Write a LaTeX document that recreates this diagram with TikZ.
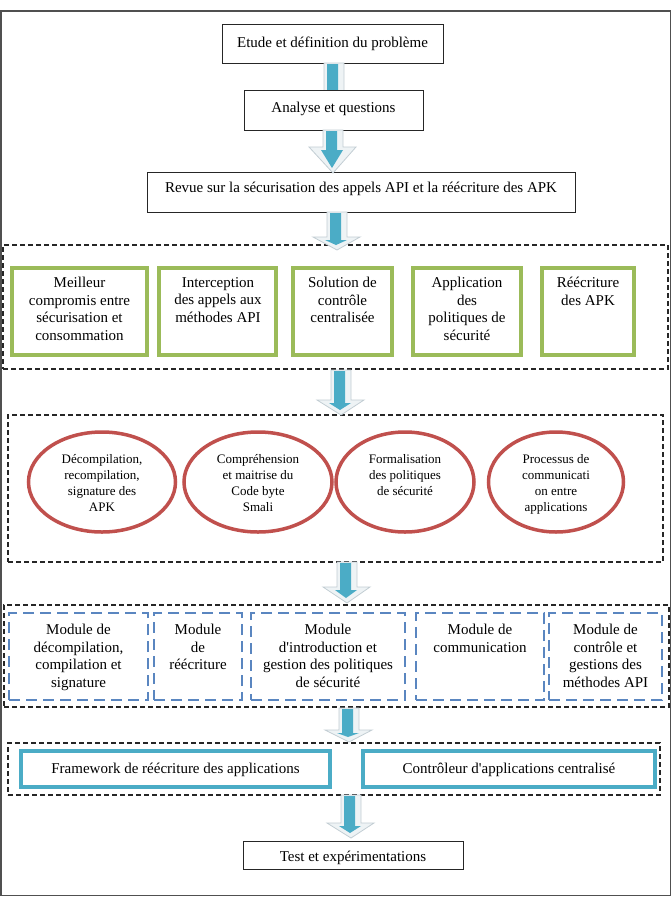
\documentclass[tikz,border=0pt]{standalone}
\usepackage{fontspec}
\setmainfont{Liberation Serif}[Ligatures=TeXOff]
\usetikzlibrary{fit,shapes.geometric}
\definecolor{ablue}{HTML}{4BACC6}
\definecolor{agreen}{HTML}{9BBB59}
\definecolor{ared}{HTML}{C0504D}
\definecolor{mblue}{HTML}{5A86C0}
\definecolor{arrlight}{HTML}{EEF3F5}
\definecolor{arredge}{HTML}{C2CDD3}
\definecolor{framec}{HTML}{505050}
\newcommand\blkarrow[4]{%
  \path[fill=arrlight, draw=arredge, line width=0.8pt]
    (#1-9,#2) -- (#1+11,#2) -- (#1+11,#3) -- (#1+24,#3) -- (#1+1,#4)
    -- (#1-23,#3) -- (#1-9,#3) -- cycle;
  \path[fill=ablue]
    (#1-6,#2+1) -- (#1+5,#2+1) -- (#1+5,#3+3) -- (#1+11,#3+3) -- (#1,#4-5)
    -- (#1-11,#3+3) -- (#1-6,#3+3) -- cycle;
}
\begin{document}
\begin{tikzpicture}[x=1pt,y=-1pt,
  plainbox/.style={draw=black!85, line width=1pt, fill=white, inner sep=0pt},
  greenbox/.style={draw=agreen, line width=3.5pt, inner sep=0pt},
  redell/.style={ellipse, draw=ared, line width=3.5pt, inner sep=0pt},
  modbox/.style={draw=mblue, line width=2.5pt, dash pattern=on 11pt off 6pt, inner sep=0pt},
  bluebox/.style={draw=ablue, line width=4pt, inner sep=0pt},
  groupbox/.style={draw=black!85, line width=1.3pt, dash pattern=on 5pt off 3pt, inner sep=0pt},
  framebox/.style={draw=framec, line width=1.5pt, inner sep=0pt},
  txt/.style={align=center, font=\fontsize{15}{17.5}\selectfont, inner sep=0pt},
  mtxt/.style={txt, anchor=north, execute at begin node={\rule{0pt}{11pt}}},
  etxt/.style={align=center, font=\fontsize{13}{16}\selectfont, inner sep=0pt, anchor=north,
    execute at begin node={\rule{0pt}{10pt}}}
]
\useasboundingbox (0,0) rectangle (672,898);
\node[framebox, fit={(1,11) (670.5,895.5)}] (frame) {};

% top boxes
\node[plainbox, fit={(222,24) (443,63)}] (b1) {};
\node[txt, anchor=base] (t1) at (332.5,47) {Etude et définition du problème};
\blkarrow{333}{63}{100}{120}
\node[plainbox, fit={(244,90) (423,130)}] (b2) {};
\node[txt, anchor=base] (t2) at (333.5,112) {Analyse et questions};
\node[plainbox, fit={(147,172) (575,212)}] (b3) {};
\node[txt, anchor=base] (t3) at (361,192) {Revue sur la sécurisation des appels API et la réécriture des APK};

% group 1
\node[groupbox, fit={(3,245) (668,369)}] (g1) {};
\node[greenbox, fit={(12,268) (147,355)}] (ga) {};
\node[greenbox, fit={(159,268) (276,355)}] (gb) {};
\node[greenbox, fit={(293,268) (392,355)}] (gc) {};
\node[greenbox, fit={(413,268) (521,355)}] (gd) {};
\node[greenbox, fit={(542,268) (634,355)}] (ge) {};
\node[mtxt] (ta) at (79.5,277) {Meilleur\\compromis entre\\sécurisation et\\consommation};
\node[mtxt] (tb) at (218,277) {Interception\\des appels aux\\méthodes API};
\node[mtxt] (tc) at (342.5,277) {Solution de\\contrôle\\centralisée};
\node[mtxt] (td) at (467,277) {Application\\des\\politiques de\\sécurité};
\node[mtxt] (te) at (588,277) {Réécriture\\des APK};

% group 2
\node[groupbox, fit={(8,415) (663,562)}] (g2) {};
\node[redell, minimum width=147pt, minimum height=100pt] (ea) at (102,482) {};
\node[redell, minimum width=148pt, minimum height=100pt] (eb) at (258,482) {};
\node[redell, minimum width=138pt, minimum height=100pt] (ec) at (405,482) {};
\node[redell, minimum width=135pt, minimum height=100pt] (ed) at (556,482) {};
\node[etxt] (tea) at (102,454) {Décompilation,\\recompilation,\\signature des\\APK};
\node[etxt] (teb) at (258,454) {Compréhension\\et maitrise du\\Code byte\\Smali};
\node[etxt] (tec) at (405,454) {Formalisation\\des politiques\\de sécurité};
\node[etxt] (ted) at (556,454) {Processus de\\communicati\\on entre\\applications};

% group 3
\node[groupbox, fit={(4,605) (669,707)}] (g3) {};
\node[modbox, fit={(9,613) (148,700)}] (ma) {};
\node[modbox, fit={(154,613) (242,700)}] (mb) {};
\node[modbox, fit={(251,613) (405,700)}] (mc) {};
\node[modbox, fit={(416,613) (544,700)}] (md) {};
\node[modbox, fit={(549,613) (662,700)}] (me) {};
\node[mtxt] (tma) at (78.5,624) {Module de\\décompilation,\\compilation et\\signature};
\node[mtxt] (tmb) at (198,624) {Module\\de\\réécriture};
\node[mtxt] (tmc) at (328,624) {Module\\d'introduction et\\gestion des politiques\\de sécurité};
\node[mtxt] (tmd) at (480,624) {Module de\\communication};
\node[mtxt] (tme) at (605.5,624) {Module de\\contrôle et\\gestions des\\méthodes API};

% group 4
\node[groupbox, fit={(8,743) (660,795)}] (g4) {};
\node[bluebox, fit={(21,751) (330,787)}] (fa) {};
\node[bluebox, fit={(363,751) (655,787)}] (fb) {};
\node[txt, anchor=base] (tfa) at (175.5,773) {Framework de réécriture des applications};
\node[txt, anchor=base] (tfb) at (509,773) {Contrôleur d'applications centralisé};

% final
\node[plainbox, fit={(243,841) (463,869)}] (b4) {};
\node[txt, anchor=base] (t4) at (353,861) {Test et expérimentations};

% arrows
\blkarrow{332}{130}{147}{173}
\blkarrow{336}{212}{237}{250}
\blkarrow{340}{370}{400}{415}
\blkarrow{346}{562}{587}{603}
\blkarrow{348}{708}{730}{742}
\blkarrow{350}{795}{823}{838}
\end{tikzpicture}
\end{document}
